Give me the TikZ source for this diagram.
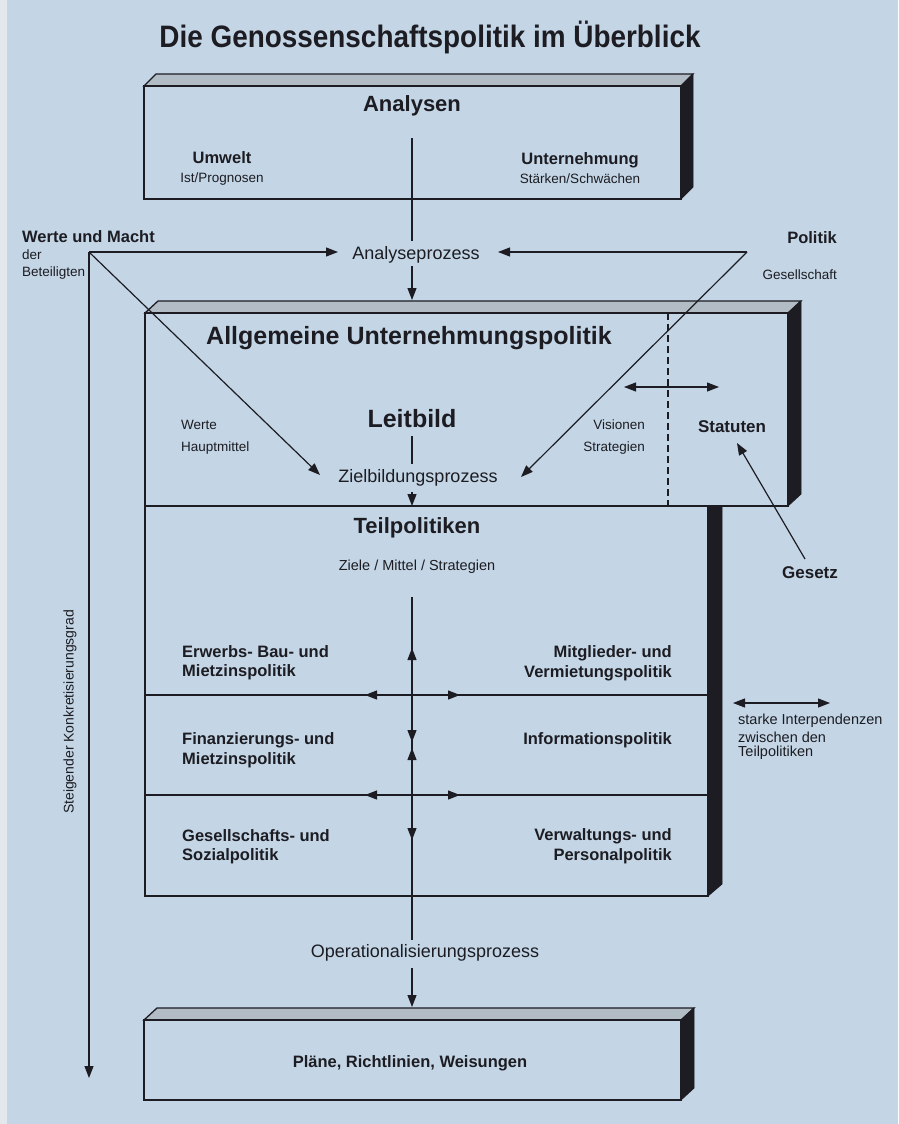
\documentclass[tikz,border=0pt]{standalone}
\usepackage{fontspec}
\setmainfont{Liberation Sans}
\newfontfamily\condfont[FakeStretch=0.9]{Liberation Sans}
\usetikzlibrary{arrows.meta}
\definecolor{bg}{RGB}{196,214,230}
\definecolor{bgl}{RGB}{226,232,236}
\definecolor{ink}{RGB}{28,28,34}
\definecolor{topface}{RGB}{178,188,196}
\newcommand\myfs[1]{\fontsize{#1}{#1}\selectfont}
\tikzset{
  ln/.style={draw=ink, line width=1.2pt},
  arr/.style={ln, -{Triangle[length=12pt,width=9pt]}},
  darr/.style={ln, {Triangle[length=12pt,width=9pt]}-{Triangle[length=12pt,width=9pt]}},
  front/.style={draw=ink, line width=1.3pt},
  side/.style={fill=ink, draw=ink, line width=0.8pt},
  tface/.style={fill=topface, draw=ink, line width=1.3pt},
  txt/.style={inner sep=0pt, text=ink},
  ttl/.style={txt, font=\condfont\myfs{31}\bfseries},
  head/.style={txt, font=\myfs{25}\bfseries},
  sub/.style={txt, font=\myfs{16.5}\bfseries},
  small/.style={txt, font=\myfs{13.5}},
  proc/.style={txt, font=\myfs{18}},
}
\begin{document}
\begin{tikzpicture}[x=1pt,y=-1pt]
\useasboundingbox (0,0) rectangle (898,1124);
\fill[bg] (0,0) rectangle (898,1124);
\fill[bgl] (0,0) rectangle (7,1124);

% title
\node[ttl] (title) at (430,37) {Die Genossenschaftspolitik im Überblick};

% ---------- top box: Analysen
\path[tface] (144,86) -- (156,74) -- (693,74) -- (681,86) -- cycle;
\path[side] (681,86) -- (693,74) -- (693,187) -- (681,199) -- cycle;
\draw[front] (144,86) rectangle (681,199);
\node[txt, font=\myfs{22}\bfseries] (analysen) at (412,106) {Analysen};
\node[sub] (umwelt) at (222,158) {Umwelt};
\node[small] (ist) at (222,179) {Ist/Prognosen};
\node[sub] (untern) at (580,160) {Unternehmung};
\node[small] (staerken) at (580,179) {Stärken/Schwächen};

% ---------- Analyseprozess
\node[proc] (analyse) at (416,255) {Analyseprozess};
\coordinate (a1) at (412,138);
\coordinate (a2) at (412,241);
\coordinate (a3) at (412,266);
\coordinate (a4) at (412,300);
\draw[ln] (a1) -- (a2);
\draw[arr] (a3) -- (a4);

\node[sub, anchor=west] (werte) at (22,237) {Werte und Macht};
\node[small, anchor=west] (der) at (22,255) {der};
\node[small, anchor=west] (beteil) at (22,273) {Beteiligten};
\node[sub, anchor=east] (politik) at (837,238) {Politik};
\node[small, anchor=east] (gesell) at (837,275) {Gesellschaft};

\coordinate (apexL) at (89,252);
\coordinate (apexR) at (747,252);
\coordinate (tipAL) at (338,252);
\coordinate (tipAR) at (498,252);
\coordinate (tipZL) at (320,475);
\coordinate (tipZR) at (521,477);
\draw[arr] (apexL) -- (tipAL);
\draw[arr] (apexR) -- (tipAR);

% ---------- big box: Allgemeine Unternehmungspolitik
\path[tface] (145,313) -- (158,301) -- (801,301) -- (788,313) -- cycle;
\path[side] (788,313) -- (801,301) -- (801,494) -- (788,506) -- cycle;
\draw[front] (145,313) rectangle (788,506);

\draw[arr] (apexL) -- (tipZL);
\draw[arr] (apexR) -- (tipZR);

\node[head] (allg) at (409,338) {Allgemeine Unternehmungspolitik};
\node[txt, font=\myfs{25}\bfseries] (leitbild) at (412,419) {Leitbild};
\node[small, anchor=west] (wertei) at (181,425) {Werte};
\node[small, anchor=west] (hauptm) at (181,448) {Hauptmittel};
\node[small, anchor=east] (vision) at (645,425) {Visionen};
\node[small, anchor=east] (strat) at (645,448) {Strategien};
\node[txt, font=\myfs{17}\bfseries] (statuten) at (732,427) {Statuten};
\node[proc] (ziel) at (418,478) {Zielbildungsprozess};

\coordinate (l1) at (412,436);
\coordinate (l2) at (412,464);
\draw[ln] (l1) -- (l2);
\coordinate (z1) at (412,492);
\coordinate (z2) at (412,506);
\draw[arr] (z1) -- (z2);

\coordinate (d1) at (668,313);
\coordinate (d2) at (668,506);
\draw[ln, dash pattern=on 7pt off 4pt] (d1) -- (d2);
\coordinate (da) at (624,387);
\coordinate (db) at (719,387);
\draw[darr] (da) -- (db);

\node[txt, font=\myfs{17}\bfseries] (gesetz) at (810,573) {Gesetz};
\coordinate (g1) at (805,559);
\coordinate (g2) at (737,443);
\draw[arr] (g1) -- (g2);

% ---------- Teilpolitiken box
\path[side] (708,506) -- (722,506) -- (722,884) -- (708,896) -- cycle;
\draw[front] (145,506) rectangle (708,896);

\node[txt, font=\myfs{22}\bfseries] (teil) at (417,528) {Teilpolitiken};
\node[txt, font=\myfs{14.5}] (ziele) at (417,567) {Ziele / Mittel / Strategien};

\coordinate (h1l) at (145,695);
\coordinate (h1r) at (708,695);
\coordinate (h2l) at (145,795);
\coordinate (h2r) at (708,795);
\draw[ln] (h1l) -- (h1r);
\draw[ln] (h2l) -- (h2r);

\coordinate (c0) at (412,597);
\coordinate (c1) at (412,695);
\coordinate (c2) at (412,795);
\coordinate (c3) at (412,940);
\coordinate (t1) at (412,648);
\coordinate (t2) at (412,742);
\coordinate (t3) at (412,748);
\coordinate (t4) at (412,840);
\draw[ln] (c0) -- (c3);
\draw[arr] (c1) -- (t1);
\draw[arr] (c1) -- (t2);
\draw[arr] (c2) -- (t3);
\draw[arr] (c2) -- (t4);
\coordinate (hl1) at (365,695);
\coordinate (hr1) at (460,695);
\coordinate (hl2) at (365,795);
\coordinate (hr2) at (460,795);
\draw[arr] (c1) -- (hl1);
\draw[arr] (c1) -- (hr1);
\draw[arr] (c2) -- (hl2);
\draw[arr] (c2) -- (hr2);

\node[sub, anchor=west] (erw1) at (182,652) {Erwerbs- Bau- und};
\node[sub, anchor=west] (erw2) at (182,672) {Mietzinspolitik};
\node[sub, anchor=west] (fin1) at (182,740) {Finanzierungs- und};
\node[sub, anchor=west] (fin2) at (182,760) {Mietzinspolitik};
\node[sub, anchor=west] (ges1) at (182,836) {Gesellschafts- und};
\node[sub, anchor=west] (ges2) at (182,856) {Sozialpolitik};
\node[sub, anchor=east] (mit1) at (672,653) {Mitglieder- und};
\node[sub, anchor=east] (mit2) at (672,673) {Vermietungspolitik};
\node[sub, anchor=east] (info) at (672,740) {Informationspolitik};
\node[sub, anchor=east] (ver1) at (672,836) {Verwaltungs- und};
\node[sub, anchor=east] (ver2) at (672,856) {Personalpolitik};

\coordinate (s1) at (733,703);
\coordinate (s2) at (830,703);
\draw[darr] (s1) -- (s2);
\node[txt, font=\myfs{14.5}, anchor=west] (st1) at (738,721) {starke Interpendenzen};
\node[txt, font=\myfs{14.5}, anchor=west] (st2) at (738,737) {zwischen den};
\node[txt, font=\myfs{14.5}, anchor=west] (st3) at (738,753) {Teilpolitiken};

% axis
\coordinate (ax) at (89,1078);
\draw[arr] (apexL) -- (ax);
\node[txt, font=\myfs{14}, rotate=90] (steig) at (70,712) {Steigender Konkretisierungsgrad};

% ---------- Operationalisierung + bottom box
\node[proc] (oper) at (425,953) {Operationalisierungsprozess};
\coordinate (o1) at (412,968);
\coordinate (o2) at (412,1007);
\draw[arr] (o1) -- (o2);

\path[tface] (144,1020) -- (157,1008) -- (694,1008) -- (681,1020) -- cycle;
\path[side] (681,1020) -- (694,1008) -- (694,1088) -- (681,1100) -- cycle;
\draw[front] (144,1020) rectangle (681,1100);
\node[txt, font=\myfs{16.5}\bfseries] (plaene) at (410,1063) {Pläne, Richtlinien, Weisungen};
\end{tikzpicture}
\end{document}
